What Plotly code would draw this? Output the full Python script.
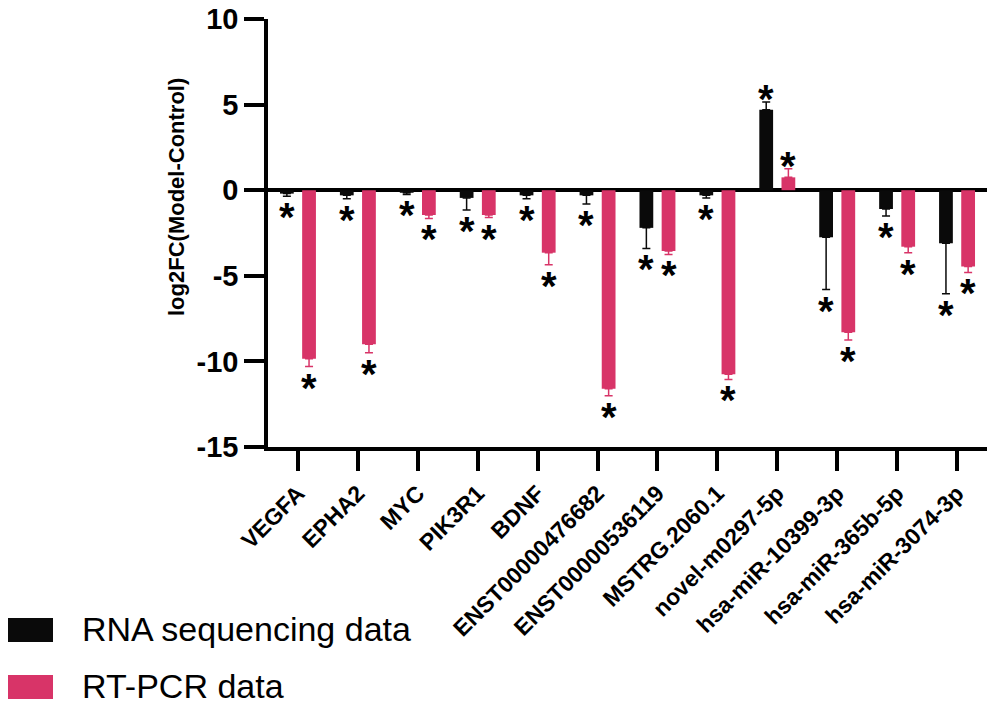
import plotly.graph_objects as go

categories = ["VEGFA", "EPHA2", "MYC", "PIK3R1", "BDNF", "ENST00000476682",
              "ENST00000536119", "MSTRG.2060.1", "novel-m0297-5p",
              "hsa-miR-10399-3p", "hsa-miR-365b-5p", "hsa-miR-3074-3p"]
rnaseq_values = [-0.2, -0.3, -0.15, -0.45, -0.3, -0.3, -2.2, -0.3, 4.7, -2.75, -1.1, -3.1]
rnaseq_err = [0.15, 0.2, 0.1, 0.7, 0.2, 0.5, 1.2, 0.15, 0.45, 3.05, 0.4, 2.95]
rtpcr_values = [-9.85, -9.0, -1.45, -1.45, -3.65, -11.6, -3.55, -10.75, 0.75, -8.3, -3.3, -4.45]
rtpcr_err = [0.45, 0.5, 0.2, 0.15, 0.7, 0.4, 0.2, 0.3, 0.5, 0.45, 0.35, 0.35]
series_names = ["RNA sequencing data", "RT-PCR data"]
y_ticks = [-15, -10, -5, 0, 5, 10]

BLACK = "#0a0a0a"
PINK = "#d83468"
FONT = "Liberation Sans, Arial, sans-serif"

# pixel geometry of plot area
L, R, T, B = 268, 987, 19, 447
W, H = 995, 706
def px(x):
    return (x - L) / (R - L)
def py(y):
    return (B - y) / (B - T)

BAR_W = 0.23
OFF = 0.185

fig = go.Figure()
for name, vals, errs, color, off in [
    (series_names[0], rnaseq_values, rnaseq_err, BLACK, -OFF),
    (series_names[1], rtpcr_values, rtpcr_err, PINK, OFF),
]:
    up = [e if v > 0 else 0 for v, e in zip(vals, errs)]
    down = [e if v <= 0 else 0 for v, e in zip(vals, errs)]
    fig.add_trace(go.Bar(
        x=categories, y=vals, name=name, marker_color=color,
        marker_line_width=0, width=BAR_W, offset=off - BAR_W / 2,
        error_y=dict(type="data", symmetric=False, array=up, arrayminus=down,
                     color=color, thickness=1.5, width=4),
        showlegend=False,
    ))
    for i, (v, e) in enumerate(zip(vals, errs)):
        end = v + e if v > 0 else v - e
        fig.add_annotation(x=i + off, y=end, xref="x", yref="y", text="*",
                           showarrow=False, yanchor="middle", xanchor="center",
                           yshift=3 if v > 0 else -21,
                           font=dict(family=FONT, size=40, color="black", weight="bold"))

# y-axis title
fig.add_annotation(x=px(176), y=py(197), xref="paper", yref="paper",
                   text="<b>log2FC(Model-Control)</b>", textangle=-90,
                   showarrow=False, xanchor="center", yanchor="middle",
                   font=dict(family=FONT, size=22, color="black"))

# manual legend
for k, (name, color, cy) in enumerate([(series_names[0], BLACK, 630), (series_names[1], PINK, 687)]):
    fig.add_shape(type="rect", xref="paper", yref="paper",
                  x0=px(8), x1=px(53), y0=py(cy - 12), y1=py(cy + 12),
                  fillcolor=color, line_width=0)
    fig.add_annotation(x=px(80), y=py(cy - 1), xref="paper", yref="paper",
                       text=name, showarrow=False, xanchor="left", yanchor="middle",
                       font=dict(family=FONT, size=34, color="black"))

fig.update_layout(
    width=W, height=H,
    margin=dict(l=L, r=W - R, t=T, b=H - B, pad=0, autoexpand=False),
    paper_bgcolor="white", plot_bgcolor="white",
    barmode="overlay",
    font=dict(family=FONT, color="black"),
)
fig.update_xaxes(
    type="category", range=[-0.5, len(categories) - 0.5], automargin=False,
    showline=True, linecolor="black", linewidth=3.5,
    ticks="outside", ticklen=20, tickwidth=3.5, tickcolor="black",
    tickangle=-45, showgrid=False, zeroline=False,
    tickfont=dict(family=FONT, size=23, color="black", weight="bold"),
)
fig.update_yaxes(
    range=[-15, 10], tickvals=y_ticks, ticktext=[str(t) for t in y_ticks],
    automargin=False,
    showline=True, linecolor="black", linewidth=3.5,
    ticks="outside", ticklen=20, tickwidth=3.5, tickcolor="black",
    showgrid=False, zeroline=True, zerolinecolor="black", zerolinewidth=4,
    tickfont=dict(family=FONT, size=29, color="black", weight="bold"),
)

fig.write_html("out.html", config={"displayModeBar": False},
               post_script="document.body.style.margin='0';document.body.style.overflow='hidden';")
